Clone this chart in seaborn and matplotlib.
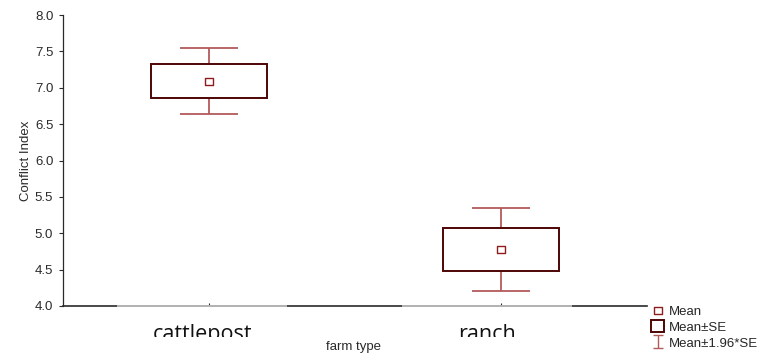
import numpy as np
import pandas as pd
import matplotlib
matplotlib.use("Agg")
import matplotlib.pyplot as plt
from matplotlib.transforms import Bbox, offset_copy
import seaborn as sns

categories = ["cattlepost", "ranch"]
means = [7.09, 4.775]
se = [0.232, 0.293]
yticks = [4.0, 4.5, 5.0, 5.5, 6.0, 6.5, 7.0, 7.5, 8.0]

sns.set_theme(style="white")
plt.rcParams["font.family"] = ["Liberation Sans", "DejaVu Sans"]

df = pd.DataFrame({"farm type": categories, "mean": means, "se": se})
df["lo"] = df["mean"] - df["se"]
df["ci"] = 1.96 * df["se"]

fig = plt.figure(figsize=(7.65, 3.58), dpi=100)
ax = fig.add_axes([63 / 765, (358 - 306) / 358, (647 - 63) / 765, (306 - 15) / 358])

box_c = "#4d0505"
whisk_c = "#b35a5a"
mean_c = "#8e1c1c"
axis_c = "#2a2a2a"
fs = 9.5

xpos = np.arange(len(categories))
ax.errorbar(xpos, df["mean"], yerr=df["ci"], fmt="none", ecolor=whisk_c,
            elinewidth=1.3, capsize=21, capthick=1.3, zorder=1)
bars = ax.bar(xpos, 2 * df["se"], bottom=df["lo"], width=0.4, color="white",
              edgecolor=box_c, linewidth=1.4, zorder=2)
sns.scatterplot(data=df, x=xpos, y="mean", marker="s", s=28, facecolor="none",
                edgecolor=mean_c, linewidth=1.0, zorder=3, ax=ax, legend=False)
h_mean = ax.collections[-1]

# legend proxy for whiskers (small caps)
eb_proxy = ax.errorbar([np.nan], [np.nan], yerr=[1.0], fmt="none", ecolor=whisk_c,
                       elinewidth=1.0, capsize=3.5, capthick=1.0)

ax.set_xlim(-0.5, len(categories) - 0.5)
ax.set_ylim(4.0, 8.0)
ax.set_yticks(yticks)
ax.set_yticklabels([f"{v:.1f}" for v in yticks], fontsize=fs, color=axis_c)
ax.set_xticks(xpos)
ax.set_xticklabels([])
ax.tick_params(axis="y", direction="out", length=3, width=0.8, color=axis_c, pad=4, left=True)
ax.tick_params(axis="x", direction="in", length=2, width=0.8, color=axis_c, bottom=True)

for s in ["top", "right"]:
    ax.spines[s].set_visible(False)
ax.spines["left"].set_color(axis_c)
ax.spines["left"].set_linewidth(0.9)
ax.spines["bottom"].set_color(axis_c)
ax.spines["bottom"].set_linewidth(1.2)

# category labels (large, clipped at bottom) with light axis segments under them
label_dx = [-7, -14]
clip = Bbox([[0, 358 - 337], [765, 358]])
for x, lab, dx in zip(xpos, categories, label_dx):
    tr = offset_copy(ax.transData, fig=fig, x=dx, y=-34, units="dots")
    t = ax.text(x, 4.0, lab, transform=tr, fontsize=15.5,
                family=["Open Sans", "DejaVu Sans"], color="#111111",
                ha="center", va="baseline")
    t.set_clip_on(True)
    t.set_clip_box(clip)
    trl = offset_copy(ax.transData, fig=fig, x=dx, y=0, units="dots")
    ax.plot([x - 0.29, x + 0.29], [4.0, 4.0], color="#c8c8c8", lw=1.2, transform=trl,
            clip_on=False, zorder=5, solid_capstyle="butt")

ax.set_ylabel("Conflict Index", fontsize=fs, color=axis_c, labelpad=2)
ax.set_xlabel("")
fig.text(354 / 765, 1 - 347 / 358, "farm type", fontsize=fs, color=axis_c,
         ha="center", va="center")

handles = [h_mean, bars, eb_proxy]
labels = ["Mean", "Mean\u00b1SE", "Mean\u00b11.96*SE"]
fig.legend(handles, labels, loc="lower left", bbox_to_anchor=(642 / 765, -1 / 358),
           frameon=False, fontsize=fs, handlelength=1.0, handleheight=1.0,
           handletextpad=0.3, labelspacing=0.2, borderpad=0.2)

fig.savefig("out.png", dpi=100)
